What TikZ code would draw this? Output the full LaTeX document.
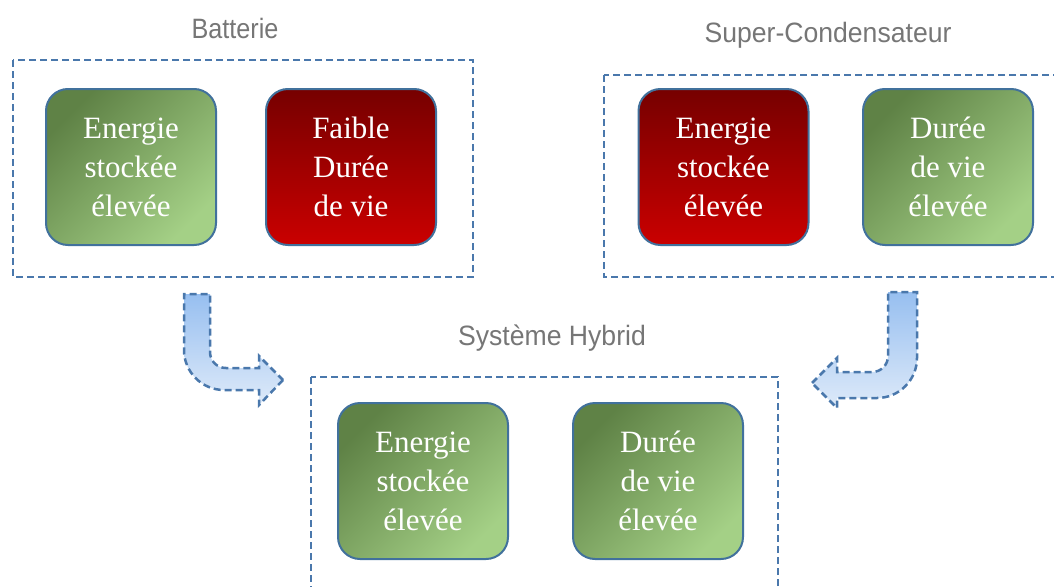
\documentclass[tikz,border=0pt]{standalone}
\usepackage{fontspec}
\setmainfont{Liberation Serif}
\newfontfamily\lblfont[FakeStretch=0.95]{Liberation Sans}
\newfontfamily\lblfontnarrow[FakeStretch=0.9]{Liberation Sans}
\definecolor{frameblue}{HTML}{41719C}
\definecolor{dashblue}{HTML}{4A78AC}
\definecolor{gdark}{HTML}{5F8246}
\definecolor{glight}{HTML}{A4D086}
\definecolor{rdark}{HTML}{760000}
\definecolor{rlight}{HTML}{CA0000}
\definecolor{adark}{HTML}{97BFF0}
\definecolor{alight}{HTML}{DEEAF9}
\definecolor{lblgray}{HTML}{767676}
\tikzset{
  cell/.style={draw=frameblue, line width=2pt, rounded corners=22pt,
    minimum width=170pt, minimum height=156pt, inner sep=0pt,
    align=center, text=white, font=\fontsize{31}{39}\selectfont},
  goodcell/.style={cell, top color=gdark, bottom color=glight, shading angle=45},
  badcell/.style={cell, top color=rdark, bottom color=rlight},
  groupbox/.style={draw=dashblue, line width=2.5pt, dash pattern=on 7pt off 4pt},
  grouplabel/.style={anchor=base, text=lblgray, font=\lblfont\fontsize{28}{32}\selectfont},
  bentarrow/.style={draw=dashblue, line width=2.5pt, dash pattern=on 7pt off 4pt,
    top color=adark, bottom color=alight, line join=miter}
}
\begin{document}
\begin{tikzpicture}[x=1pt,y=-1pt]
\useasboundingbox (0,0) rectangle (1054,586);
\clip (0,0) rectangle (1054,586);
% group frames
\draw[groupbox] (13,60) rectangle (473,277);
\draw[groupbox] (604,75) rectangle (1070,277);
\draw[groupbox] (311,377) rectangle (778,600);
% group labels
\node[grouplabel, font=\lblfontnarrow\fontsize{28}{32}\selectfont] (lbat) at (235,38) {Batterie};
\node[grouplabel] (lsup) at (828,43) {Super-Condensateur};
\node[grouplabel] (lhyb) at (552,345) {Système Hybrid};
% cells
\node[goodcell] (b1) at (131,167) {Energie\\stockée\\élevée};
\node[badcell]  (b2) at (351,167) {Faible\\Durée\\de vie};
\node[badcell]  (s1) at (723.5,167) {Energie\\stockée\\élevée};
\node[goodcell] (s2) at (948,167) {Durée\\de vie\\élevée};
\node[goodcell] (h1) at (423,481) {Energie\\stockée\\élevée};
\node[goodcell] (h2) at (658,481) {Durée\\de vie\\élevée};
% bent arrows
\path[bentarrow] (283,380) -- (259,405) -- (259,390) -- (224,390)
  .. controls (202,390) and (184,372) .. (184,350) -- (184,294) -- (210,294)
  -- (210,352) .. controls (210,361) and (217,368) .. (226,368) -- (259,368)
  -- (259,356) -- cycle;
\path[bentarrow] (812,383) -- (837,358) -- (837,372) -- (872,372)
  .. controls (881,372) and (888,365) .. (888,356) -- (888,292) -- (917,292)
  -- (917,358) .. controls (917,380) and (899,398) .. (877,398) -- (837,398)
  -- (837,408) -- cycle;
\end{tikzpicture}
\end{document}
